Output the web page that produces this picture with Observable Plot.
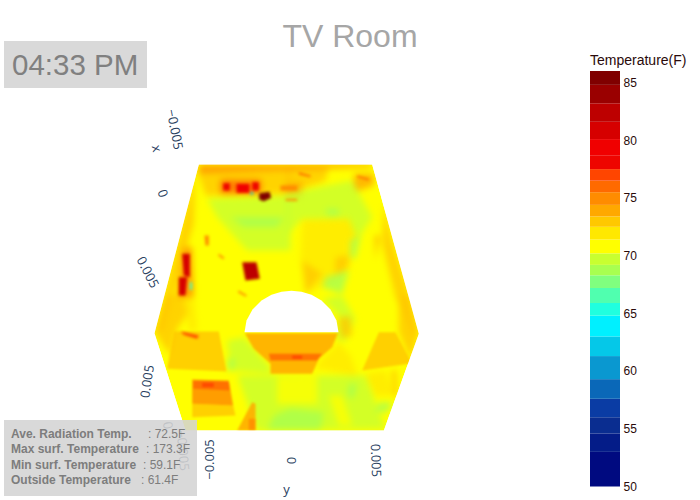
<!DOCTYPE html>
<html><head><meta charset="utf-8">
<script src="https://cdn.jsdelivr.net/npm/d3@7"></script>
<script src="https://cdn.jsdelivr.net/npm/@observablehq/plot@0.6"></script>
<style>
html,body{margin:0;padding:0;background:#fff}
#stage{position:relative;width:700px;height:500px;overflow:hidden;font-family:"Liberation Sans",Arial,sans-serif}
#stage svg{position:absolute;top:0;left:0;background:transparent}
.soft{filter:blur(3.4px)}
.panel{filter:blur(0.9px)}
.hot{filter:blur(1.8px)}
#title{position:absolute;left:0;width:700px;top:18px;text-align:center;font-size:32px;line-height:37px;color:#a6a6a6}
#clock{position:absolute;left:4px;top:41px;width:143px;height:47px;background:#d9d9d9;color:#808080;font-size:29.5px;line-height:47px;text-indent:8px}
#info{position:absolute;left:4px;top:420px;width:193px;height:76px;background:rgba(212,212,212,.88);color:#7d7d7d;font-size:12px;line-height:15.4px}
#info div{position:absolute;left:7px;white-space:pre;font-weight:bold}
#info span{position:absolute;font-weight:normal;top:0}
#cbtitle{position:absolute;left:590px;top:51px;font-size:14px;line-height:18px;color:#2a0a0a}
</style></head><body>
<div id="stage"></div>
<script>
// colour bar bands (deg F)
const bandEdges=[53,54.6,56,57.6,59.3,61.3,63,64.8,65.9,67.2,68.3,69.2,70.2,71.4,72.5,73.4,74.4,75.5,76.5,77.5,78.7,80.1,81.6,83.2,84.8];
const bandColors=["#000a80","#041c88","#0a2d90","#0a3ca4","#0a68b8","#0a98d0","#05c8e8","#00f0ff","#20ffdf","#50ffaf","#80ff7f","#a8ff50","#c8ff30","#ffff00","#ffe800","#ffc800","#ffa800","#ff8c00","#ff6a00","#ff4500","#ee0500","#f00000","#d60000","#bd0000","#9a0000","#800000"];
const barTicks=[50,55,60,65,70,75,80,85];
const barMin=50, barMax=86;

// picture-plane extent of the view
const viewX=[-390,1710], viewY=[-420,1080];

// surface outline and window opening
const roomOutline=[[205,72],[725,72],[865,580],[760,870],[165,870],[72,578]];
const windowOpening=[[342,575],[348,540],[366,507],[393,480],[423,463],[453,454],[483,451],[513,454],[543,463],[573,480],[600,507],[618,540],[624,575]];
const baseTemp=71;

// surface temperature regions
const softPatches=[
 [72.6,[[200,90],[485,85],[480,160],[225,165]]],
 [73.2,[[465,80],[595,80],[585,120],[465,160]]],
 [75,[[205,72],[725,72],[720,80],[480,88],[205,98]]],
 [75.6,[[270,118],[392,118],[392,160],[270,160]]],
 [73.4,[[670,100],[730,100],[730,135],[670,155]]],
 [73.4,[[465,130],[515,125],[515,175],[465,180]]],
 [72.8,[[195,90],[72,578],[100,565],[130,460],[190,250]]],
 [71.2,[[210,170],[255,220],[230,350],[185,400]]],
 [73,[[72,575],[100,465],[160,465],[175,515],[140,565],[120,645]]],
 [72.4,[[160,465],[190,465],[200,570],[175,570]]],
 [70,[[230,175],[480,165],[480,330],[350,330],[260,230]]],
 [70,[[465,160],[665,120],[725,230],[675,310],[655,235],[515,235],[465,290]]],
 [72,[[515,238],[655,235],[680,290],[655,390],[615,420],[525,460],[510,360]]],
 [73,[[515,360],[575,400],[525,460]]],
 [72.8,[[615,350],[655,345],[650,380],[615,405]]],
 [68.8,[[300,230],[460,230],[440,260],[340,260]]],
 [68.4,[[585,205],[625,205],[625,225],[590,225]]],
 [68.6,[[660,300],[690,285],[675,355],[660,350]]],
 [68.8,[[585,410],[655,390],[635,460],[575,440]]],
 [73,[[760,190],[785,300],[840,470],[865,580],[845,580],[795,470],[755,310]]],
 [74.6,[[735,285],[745,285],[735,360]]],
 [73.2,[[805,465],[840,465],[865,580],[840,660],[805,575]]],
 [71.2,[[735,465],[775,465],[795,555],[765,555]]],
 [70.8,[[230,330],[350,330],[340,465],[230,475]]],
 [71,[[230,475],[340,455],[340,565],[275,580],[200,565]]],
 [70,[[290,600],[340,590],[420,680],[420,700],[300,690]]],
 [68.8,[[290,655],[315,655],[305,695],[290,685]]],
 [69.8,[[575,475],[635,465],[675,535],[645,605],[615,595],[625,525]]],
 [72.6,[[625,530],[660,527],[665,585],[630,595]]],
 [72.4,[[550,680],[625,605],[660,645],[680,700],[670,705]]],
 [69.9,[[320,705],[705,705],[765,865],[380,870]]],
 [71,[[595,765],[635,765],[665,855],[625,855]]],
 [71,[[440,710],[560,705],[560,790],[440,790]]],
 [68.4,[[655,730],[680,730],[670,775],[650,765]]],
 [68.6,[[745,785],[785,785],[770,815],[735,815]]],
 [68.9,[[430,825],[480,805],[580,815],[570,870],[410,870]]],
 [72.4,[[705,700],[765,690],[795,765],[735,765]]],
 [73.4,[[785,690],[795,690],[800,765],[793,765]]],
 [75,[[160,320],[185,320],[190,470],[140,470],[150,400]]]
];
const panels=[
 [73,[[130,573],[265,573],[288,693],[110,685]]],
 [72.8,[[185,790],[308,795],[315,825],[185,830]]],
 [74.6,[[185,717],[295,720],[308,795],[185,790]]],
 [75.7,[[188,721],[295,723],[298,750],[188,745]]],
 [76.6,[[215,727],[250,727],[250,740],[215,740]]],
 [73,[[695,690],[745,575],[795,575],[840,660],[835,670]]],
 [73.8,[[343,578],[622,578],[605,620],[565,655],[545,700],[420,700],[420,670],[370,625]]],
 [75.8,[[415,640],[575,640],[560,660],[420,660]]],
 [77,[[485,645],[515,645],[515,655],[485,655]]],
 [73.4,[[320,870],[365,785],[375,790],[375,870]]],
 [75,[[355,835],[375,835],[375,870],[355,870]]]
];
const hotSpots=[
 [77,[[150,573],[205,585],[200,595],[160,583]]],
 [82.5,[[335,365],[378,365],[388,415],[345,420]]],
 [78,[[278,128],[298,128],[298,150],[278,150]]],
 [79,[[318,130],[357,130],[357,157],[318,157]]],
 [78,[[365,125],[385,125],[385,150],[365,150]]],
 [85,[[386,158],[417,154],[422,172],[400,182],[386,177]]],
 [62,[[360,155],[368,155],[368,162],[360,162]]],
 [80.4,[[155,340],[178,340],[178,410],[160,405]]],
 [81,[[145,410],[170,410],[165,465],[145,465]]],
 [66,[[178,425],[185,425],[185,448],[178,448]]],
 [75,[[222,285],[235,285],[235,315],[225,315]]],
 [75,[[265,340],[282,352],[278,356],[263,345]]],
 [75,[[325,450],[350,465],[345,468],[322,455]]],
 [76,[[505,95],[540,105],[540,110],[505,102]]],
 [76,[[680,105],[715,115],[715,120],[680,110]]],
 [75,[[465,175],[500,175],[500,181],[465,181]]],
 [75,[[450,135],[500,135],[500,150],[450,150]]]
];

// axis tick labels: text, position, rotation
const axisLabels=[
 ["x",78,24,78],["\u22120.005",132,-33,79],["0",96,159,70],["0.005",51,396,63],
 ["0.005",51,723,-82],["\u22120.005",237,957,-90],["0",483,960,-90],["0.005",735,960,88],
 ["y",468,1047,0],["0",111,855,80],["\u22120.005",156,930,85]
];

const closed=r=>[...r,r[0]];
const poly=(rows)=>rows.map(([temp,ring])=>({temp,geometry:{type:"Polygon",coordinates:[closed(ring)]}}));
const colorScale={type:"threshold",domain:bandEdges,range:bandColors};
const view={type:"Polygon",coordinates:[closed([[viewX[0],viewY[0]],[viewX[1],viewY[0]],[viewX[1],viewY[1]],[viewX[0],viewY[1]]])]};
const mask={type:"Polygon",coordinates:[view.coordinates[0],closed([...roomOutline].reverse())]};
const hole={type:"Polygon",coordinates:[closed(windowOpening)]};

const surfaceMark=(rows,className,fillOpacity)=>Plot.geo(poly(rows),{geometry:"geometry",fill:"temp",stroke:null,className,fillOpacity});

const main=Plot.plot({
 width:700,height:500,margin:0,
 style:{background:"transparent"},
 projection:{type:"identity",domain:view,inset:0},
 color:colorScale,
 marks:[
  surfaceMark([[baseTemp,roomOutline]],"base",1),
  surfaceMark(softPatches,"soft",0.8),
  surfaceMark(panels,"panel",0.85),
  surfaceMark(hotSpots,"hot",1),
  Plot.geo([mask,hole],{fill:"white",stroke:null}),
  Plot.text(axisLabels,{x:d=>d[1],y:d=>d[2],text:d=>d[0],rotate:d=>d[3],fontFamily:"Open Sans",fontSize:13,fill:"#2a3f5f"})
 ]
});

const bands=bandColors.map((c,i)=>({lo:i?bandEdges[i-1]:barMin,hi:i<bandEdges.length?bandEdges[i]:barMax}));
const bar=Plot.plot({
 width:700,height:500,marginLeft:590,marginRight:80,marginTop:71,marginBottom:13.5,
 style:{background:"transparent",fontFamily:"Liberation Sans",fontSize:"12px",color:"#2a0a0a"},
 x:{domain:[0,1],axis:null},
 y:{domain:[barMin,barMax],axis:null},
 color:colorScale,
 marks:[
  Plot.rect(bands,{x1:0,x2:1,y1:"lo",y2:"hi",fill:d=>(d.lo+d.hi)/2}),
  Plot.axisY(barTicks,{anchor:"right",tickSize:0,tickPadding:3,label:null,fontSize:12,tickFormat:d=>String(d)})
 ]
});

const stage=document.getElementById("stage");
stage.append(main,bar);
const html=(id,text)=>{const e=document.createElement("div");e.id=id;e.textContent=text;stage.append(e);return e};
html("title","TV Room");
html("clock","04:33 PM");
html("cbtitle","Temperature(F)");
const infoNames=["Ave. Radiation Temp.","Max surf. Temperature","Min surf. Temperature","Outside Temperature"];
const infoValues=[": 72.5F",": 173.3F",": 59.1F",": 61.4F"];
const infoValueLeft=[137,135,132,130];
const info=html("info","");
infoNames.forEach((n,i)=>{
 const r=document.createElement("div");r.textContent=n;r.style.top=(7+i*15.4)+"px";
 const s=document.createElement("span");s.textContent=infoValues[i];s.style.left=infoValueLeft[i]+"px";r.append(s);info.append(r);
});
</script></body></html>
